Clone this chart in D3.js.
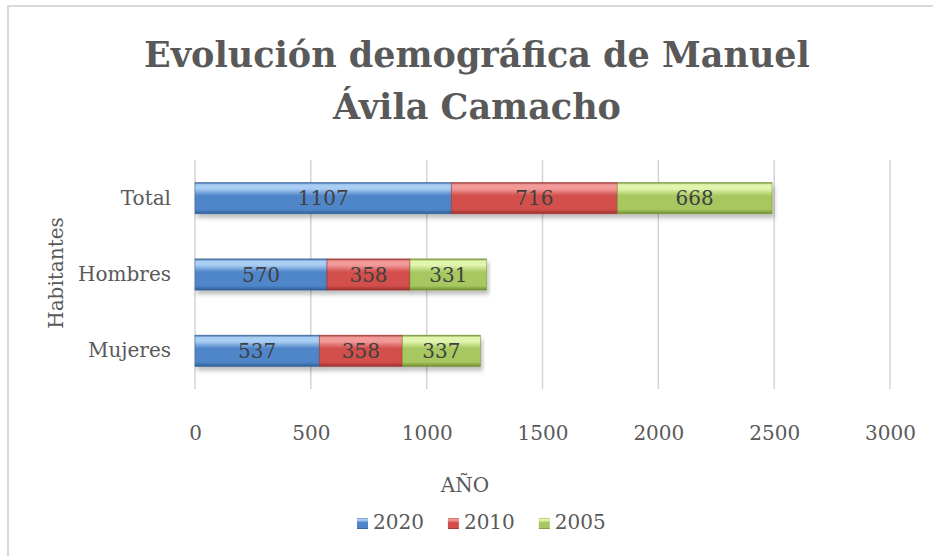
<!DOCTYPE html>
<html>
<head>
<meta charset="utf-8">
<script src="https://cdn.jsdelivr.net/npm/d3@7"></script>
<style>
  html, body { margin: 0; padding: 0; background: #fff; }
  svg { display: block; }
</style>
</head>
<body>
<div id="chart"></div>
<script>
const categories = ['Total', 'Hombres', 'Mujeres'];
const seriesNames = ['2020', '2010', '2005'];
const v2020 = [1107, 570, 537];
const v2010 = [716, 358, 358];
const v2005 = [668, 331, 337];
const xTicks = [0, 500, 1000, 1500, 2000, 2500, 3000];
const titleLines = ['Evoluci\u00f3n demogr\u00e1fica de Manuel', '\u00c1vila Camacho'];

const W = 933, H = 556;
const font = '"DejaVu Serif", serif';
const txt = '#595959';

// office-like fill colours: [top stripe, mid, bottom]
const pal = {
  '2020': ['#a9cdf3', '#4f86c9', '#2e5e96'],
  '2010': ['#f29a98', '#d24f4c', '#9c2f2d'],
  '2005': ['#e2f5ae', '#a7c860', '#6f8c2f']
};

const svg = d3.select('#chart').append('svg')
  .attr('width', W).attr('height', H);

const defs = svg.append('defs');
seriesNames.forEach(s => {
  const [hi, mid, lo] = pal[s];
  const gr = defs.append('linearGradient').attr('id', 'g' + s)
    .attr('x1', 0).attr('y1', 0).attr('x2', 0).attr('y2', 1);
  gr.append('stop').attr('offset', '0%').attr('stop-color', lo);
  gr.append('stop').attr('offset', '7%').attr('stop-color', hi);
  gr.append('stop').attr('offset', '20%').attr('stop-color', hi);
  gr.append('stop').attr('offset', '42%').attr('stop-color', mid);
  gr.append('stop').attr('offset', '86%').attr('stop-color', mid);
  gr.append('stop').attr('offset', '100%').attr('stop-color', lo);
});
const flt = defs.append('filter').attr('id', 'shadow')
  .attr('x', '-5%').attr('y', '-20%').attr('width', '110%').attr('height', '160%');
flt.append('feDropShadow').attr('dx', 2).attr('dy', 4).attr('stdDeviation', 2)
  .attr('flood-color', '#000').attr('flood-opacity', 0.25);

// outer border (chart frame runs off the right/bottom edges)
svg.append('rect').attr('x', 8).attr('y', 6).attr('width', W + 20).attr('height', H + 20)
  .attr('fill', 'none').attr('stroke', '#d9d9d9').attr('stroke-width', 2);

// title
svg.append('text').attr('x', 477).attr('y', 67)
  .attr('text-anchor', 'middle').attr('fill', txt)
  .style('font-family', font).style('font-weight', 'bold').style('font-size', '35px')
  .selectAll('tspan').data(titleLines).join('tspan')
  .attr('x', 477).attr('dy', (d, i) => i === 0 ? 0 : 52)
  .text(d => d);

const x = d3.scaleLinear().domain([0, 3000]).range([195, 890]);
const y = d3.scaleBand().domain(categories).range([160, 389]);
const barH = y.bandwidth() * 0.41;

// grid
svg.append('g').selectAll('line').data(xTicks).join('line')
  .attr('x1', d => x(d)).attr('x2', d => x(d))
  .attr('y1', y.range()[0]).attr('y2', y.range()[1])
  .attr('stroke', '#d4d4d4').attr('stroke-width', 1.5);

// x tick labels
const xAxis = svg.append('g').attr('transform', `translate(0,${y.range()[1]})`)
  .call(d3.axisBottom(x).tickValues(xTicks).tickSize(0).tickPadding(37).tickFormat(d3.format('d')));
xAxis.select('.domain').remove();
xAxis.selectAll('text').attr('fill', txt).style('font-family', font).style('font-size', '20px');

// y category labels
const yAxis = svg.append('g').attr('transform', `translate(${x(0)},0)`)
  .call(d3.axisLeft(y).tickSize(0).tickPadding(24));
yAxis.select('.domain').remove();
yAxis.selectAll('text').attr('fill', txt).style('font-family', font).style('font-size', '20px');

// stacked bars
const rows = categories.map((c, i) => ({ cat: c, '2020': v2020[i], '2010': v2010[i], '2005': v2005[i] }));
const stacked = d3.stack().keys(seriesNames)(rows);

stacked.forEach(layer => {
  const key = layer.key;
  const g = svg.append('g');
  g.selectAll('rect').data(layer).join('rect')
    .attr('x', d => x(d[0]))
    .attr('y', d => y(d.data.cat) + (y.bandwidth() - barH) / 2)
    .attr('width', d => x(d[1]) - x(d[0]))
    .attr('height', barH)
    .attr('fill', `url(#g${key})`)
    .attr('stroke', pal[key][2]).attr('stroke-width', 0.8).attr('stroke-opacity', 0.6)
    .attr('filter', 'url(#shadow)');
  g.selectAll('text').data(layer).join('text')
    .attr('x', d => (x(d[0]) + x(d[1])) / 2)
    .attr('y', d => y(d.data.cat) + y.bandwidth() / 2)
    .attr('dy', '0.36em')
    .attr('text-anchor', 'middle').attr('fill', '#404040')
    .style('font-family', font).style('font-size', '20px')
    .text(d => d.data[key]);
});

// axis titles
svg.append('text').attr('transform', 'translate(63,273) rotate(-90)')
  .attr('text-anchor', 'middle').attr('fill', txt)
  .style('font-family', font).style('font-size', '20px')
  .text('Habitantes');
svg.append('text').attr('x', 465).attr('y', 492)
  .attr('text-anchor', 'middle').attr('fill', txt)
  .style('font-family', font).style('font-size', '20px')
  .text('A\u00d1O');

// legend
const leg = svg.append('g').attr('transform', 'translate(357,529)');
let lx = 0;
seriesNames.forEach(s => {
  const it = leg.append('g').attr('transform', `translate(${lx},0)`);
  it.append('rect').attr('x', 0).attr('y', -11).attr('width', 11).attr('height', 11)
    .attr('fill', `url(#g${s})`);
  const t = it.append('text').attr('x', 16).attr('y', 0).attr('fill', txt)
    .style('font-family', font).style('font-size', '20px').text(s);
  lx += 16 + t.node().getComputedTextLength() + 24;
});
</script>
</body>
</html>
